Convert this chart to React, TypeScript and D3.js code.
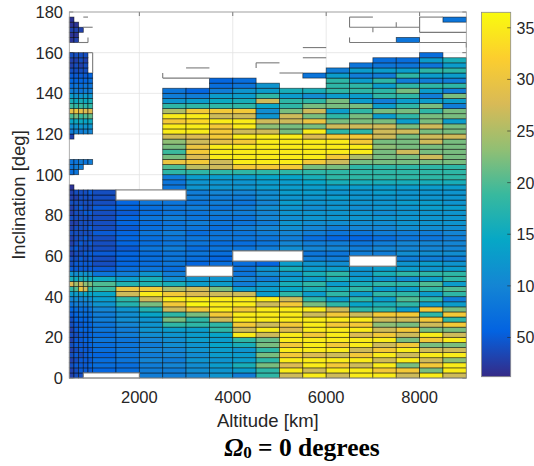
import React from 'react';
import * as d3 from 'd3';

const _ = null;

// Altitude bin edges [km]
const altitudeEdges = [500, 600, 700, 800, 900, 1000, 1500, 2000, 2500, 3000, 3500, 4000, 4500, 5000, 5500, 6000, 6500, 7000, 7500, 8000, 8500, 9000];
// Inclination bin size [deg]
const INC_STEP = 2.5;

// Values per altitude column, from inclination 0 upward (one entry per 2.5 deg row)
const col0500 = [3,3,4,3,4,3,4,3,4,3,4,4,5,6, 8,10,13,18,28,16,12, 5,4,4,3,4,3,3,4,3,3,4,3,3,4,3,3, 2, _,_, 7,8,8, _,_,_,_, 3, 9,11,14,20,29,19,16,13,9,7,6,5, 4,3,3,4, _,_, 2,2,3,2,2];
const col0600 = [4,4,5,4,5,4,5,5,4,5,5,6,6,7, 9,11,13,20,24,15,11, 5,5,4,4,5,4,4,4,4,3,4,4,4,4,3,4, _,_,_, 8,9,8, _,_,_,_,_, 10,12,15,22,30,18,15,12,9,8,6,5, 4,4,3,4, _,_, 3,2,3,2];
const col0700 = [4,5,5,5,4,5,5,5,5,6,5,6,7,7, 9,10,13,30,27,16,12, 5,5,5,4,4,5,4,4,4,4,4,4,5,4,4,4, _,_,_,_, 9,9, _,_,_,_,_, 9,12,15,19,29,19,16,12,8,7,6,5, 4,3,4,4, _,_,_,_, 3];
const col0800 = [_,5,5,5,5,5,5,6,5,6,6,6,7,7, 9,11,14,27,23,16,12, 5,5,4,5,4,4,5,4,4,4,4,5,4,4,4,4, _,_,_,_,_, 8, _,_,_,_,_, 10,12,14,20,28,18,15,13,9,8,6,5, 4,4,3,4];
const col0900 = [_,5,6,5,6,5,6,6,6,6,6,7,7,8, 10,11,14,18,22,15,11, 5,5,5,5,4,5,4,4,5,4,4,5,4,4,4,5, _,_,_,_,_, 9, _,_,_,_,_, 10,12,15,21,28,18,16,12,9,8,7,6];
const col1000 = [_,6,7,7,6,7,7,8,7,8,8,9,9,10, 12,13,14,19,20,15,8, 5,4,4,5,4,4,4,5,4,4,4,4,5,4,4,4];
const col1500 = [_,7,7,8,8,8,8,8,9,9,10,11,11,12, 17,18,27,30,17,13,9, 7,6,6,6,5,6,6,6,5,6,6,5,6,6];
const col2000 = [9,9,9,10,9,10,9,10,11,12,12,12,14,17, 22,27,35,31,17,16,12, 8,7,7,7,8,7,7,8,7,7,8,7,7,8];
const col2500 = [9,9,10,9,10,10,11,11,12,13,18,22,18,27, 31,35,31,25,16,11,9, 7,8,8,8,9,8,8,9,8,8,9,8,8,8, _,_, 8,8,9,18,20,30,22,19,22,23,27,35,35,31,35,25,18,12,9,8];
const col3000 = [10,11,11,12,11,12,12,13,13,13,18,18,22,31, 36,35,28,27,13,12,_,_, 6,7,8,7,8,8,7,8,9,8,8,9,8,9,9, 12,12,13,18,26,31,28,31,30,27,28,35,35,33,35,31,18,13,9,6];
const col3500 = [12,12,13,12,13,13,14,13,14,18,18,27,31,35, 35,35,27,22,13,12,_,_, 7,6,7,8,7,8,8,7,8,8,9,8,9,9,10, 12,12,13,18,27,27,35,35,35,29,31,31,31,35,27,31,18,15,13,9,7,6];
const col4000 = [9,13,16,13,13,12,16,18,35,27,31,35,35,31, 35,35,27,13,9,10,8,8,7,_,_, 8,7,8,8,9,8,8,9,9,8,9,10, 12,12,13,18,31,35,35,35,35,31,35,27,35,35,27,31,18,16,13,12,8,7];
const col4500 = [18,18,22,18,22,18,22,21,27,35,27,35,35,35, 27,35,13,13,12,9,11,12,6,_,_, 9,8,8,9,10,9,10,10,11,10,11,11, 13,13,14,18,31,35,35,35,35,35,35,27,23,27,12,11,14,27,18,13,12];
const col5000 = [27,35,28,35,31,35,31,35,35,28,31,35,35,35, 31,27,18,14,16,13,12,16,13,_,_, 11,10,9,10,11,12,11,12,12,13,12,13, 13,13,14,18,31,35,35,35,35,35,35,22,22,27,27,22,18,18,13,16];
const col5500 = [35,27,35,35,28,35,35,35,31,35,35,35,27,35, 22,18,13,16,18,13,16,13,12,9,8, 10,9,7,9,10,11,12,12,11,12,12,13, 13,14,16,18,22,31,35,35,35,35,28,35,22,30,22,27,22,18,11,16, _,_,8];
const col6000 = [27,35,31,35,27,35,31,35,35,35,31,35,31,27, 18,13,18,16,13,16,18,13,11,9,8, 10,9,6,8,9,11,12,12,12,12,13,12, 13,16,18,18,22,27,31,35,35,35,31,18,27,22,18,13,22,22,13,18,18,18,13,9];
const col6500 = [35,35,27,35,31,27,35,35,28,35,31,35,27,18, 14,18,13,18,16,13,12,12,_,_,9, 9,8,6,8,10,11,12,12,11,12,12,12, 13,16,18,18,18,22,25,35,35,31,31,18,27,22,22,18,22,13,13,18,18,13,9,13,8];
const col7000 = [35,31,35,27,35,31,27,35,31,27,23,27,31,18, 16,13,18,13,18,12,16,13,_,_,9, 10,9,7,9,10,11,12,11,12,12,12,13, 13,16,18,18,18,22,22,22,23,22,27,27,27,22,13,22,13,9,18,18,13,18,9,13,8,7];
const col7500 = [27,31,22,35,27,35,31,22,27,31,22,27,31,13, 18,20,18,13,18,11,18,13,12,9,11, 10,10,8,9,11,12,12,12,12,13,12,12, 13,16,18,18,18,22,22,27,22,22,22,27,22,13,18,22,18,13,18,22,18,9,18,13,8,7, _,_,_, 8];
const col8000 = [35,22,31,27,35,27,22,31,35,22,27,31,18,31, 13,18,13,18,20,13,18,12,13,9,11, 10,10,8,9,11,12,12,12,13,13,12,12, 13,16,18,18,18,22,27,22,22,27,27,22,27,22,22,18,22,13,9,13,18,9,13,18,8,13,7];
const col8500 = [27,35,35,23,35,27,22,35,27,22,31,18,31,22, 13,9,18,20,13,18,18,13,12,9,11, 10,10,9,10,11,12,12,12,13,12,12,12, 13,16,18,18,18,22,22,22,22,22,27,22,22,13,22,22,9,13,22,9,18,9,13,18,13,16, _,_,_,_,_,_,_, 8];

const columns = [col0500, col0600, col0700, col0800, col0900, col1000, col1500, col2000, col2500, col3000, col3500, col4000, col4500, col5000, col5500, col6000, col6500, col7000, col7500, col8000, col8500];

// Empty (NaN) cells that still show their outline: [alt0, alt1, inc0, inc1]
const emptyBoxes = [
  [800, 2000, 0, 2.5],
  [1500, 3000, 87.5, 92.5],
  [3000, 4000, 50, 55],
  [4000, 5500, 57.5, 62.5],
  [6500, 7500, 55, 60],
];

// Stray outline segments of empty cells: [alt0, inc0, alt1, inc1]
const nanEdges = [
  [800, 177.5, 900, 177.5],
  [800, 172.5, 1000, 172.5],
  [700, 165, 900, 165], [900, 165, 900, 167.5],
  [900, 160, 1000, 160], [1000, 150, 1000, 160],
  [2500, 147.5, 2500, 150], [2500, 147.5, 3500, 147.5],
  [3000, 152.5, 3500, 152.5],
  [4500, 152.5, 4500, 155], [4500, 155, 5000, 155],
  [5000, 150, 5500, 150],
  [5500, 162.5, 6000, 162.5], [5500, 157.5, 6000, 157.5],
  [6500, 177.5, 7000, 177.5], [6500, 172.5, 6500, 177.5], [6500, 172.5, 8000, 172.5],
  [7000, 170, 7000, 172.5], [7500, 172.5, 7500, 175],
  [8000, 177.5, 8500, 177.5], [8000, 170, 8000, 177.5], [8000, 170, 9000, 170],
  [6500, 165, 7500, 165], [6500, 165, 6500, 167.5],
  [8000, 165, 9000, 165], [9000, 162.5, 9000, 165],
];

const xTicks = [2000, 4000, 6000, 8000];
const yTicks = [0, 20, 40, 60, 80, 100, 120, 140, 160, 180];
const cbTicks = [5, 10, 15, 20, 25, 30, 35];
const cbTickLabels = ['50', '10', '15', '20', '25', '30', '35'];
const C_MIN = 1.2;
const C_MAX = 36.5;
const parula = ['#352a87', '#0363e1', '#1485d4', '#06a7c6', '#38b99e', '#92bf73', '#d9ba56', '#fcce2e', '#f9fb0e'];

const SANS = '"Liberation Sans", Arial, Helvetica, sans-serif';
const SERIF = '"Liberation Serif", "Times New Roman", serif';
const INK = '#262626';

export default function App() {
  const x = d3.scaleLinear().domain([500, 9000]).range([69.3, 466.3]);
  const y = d3.scaleLinear().domain([0, 180]).range([378, 12]);
  const color = d3
    .scaleLinear<string>()
    .domain(parula.map((_c, i) => C_MIN + (i * (C_MAX - C_MIN)) / (parula.length - 1)))
    .range(parula)
    .interpolate(d3.interpolateRgb)
    .clamp(true);
  const cb = d3.scaleLinear().domain([C_MIN, C_MAX]).range([376.7, 12.3]);
  const cbX0 = 481.5;
  const cbX1 = 510.7;

  const cells: React.ReactNode[] = [];
  columns.forEach((vals, ci) => {
    const x0 = x(altitudeEdges[ci]);
    const x1 = x(altitudeEdges[ci + 1]);
    vals.forEach((v, ri) => {
      if (v == null) return;
      const yTop = y((ri + 1) * INC_STEP);
      const yBot = y(ri * INC_STEP);
      cells.push(
        <rect
          key={`c${ci}-${ri}`}
          x={x0}
          y={yTop}
          width={x1 - x0}
          height={yBot - yTop}
          fill={color(v)}
          stroke="#000"
          strokeOpacity={0.6}
          strokeWidth={0.8}
        />
      );
    });
  });

  const [px0, px1] = x.range();
  const [py0, py1] = [y(0), y(180)];

  return (
    <svg width={534} height={466} style={{ position: 'absolute', left: 0, top: 0, background: '#fff' }}>
      <defs>
        <linearGradient id="cbgrad" x1="0" y1="1" x2="0" y2="0">
          {parula.map((c, i) => (
            <stop key={i} offset={i / (parula.length - 1)} stopColor={c} />
          ))}
        </linearGradient>
      </defs>
      <rect x={0} y={0} width={534} height={466} fill="#fff" />
      {/* grid */}
      <g stroke="#e3e3e3" strokeWidth={0.8}>
        {xTicks.map((t) => (
          <line key={`gx${t}`} x1={x(t)} x2={x(t)} y1={py1} y2={py0} />
        ))}
        {yTicks.map((t) => (
          <line key={`gy${t}`} x1={px0} x2={px1} y1={y(t)} y2={y(t)} />
        ))}
      </g>
      {/* ticks (under data) */}
      <g stroke={INK} strokeWidth={0.6}>
        {yTicks.map((t) => (
          <g key={`ty${t}`}>
            <line x1={px0} x2={px0 + 4} y1={y(t)} y2={y(t)} />
            <line x1={px1} x2={px1 - 4} y1={y(t)} y2={y(t)} />
          </g>
        ))}
        {xTicks.map((t) => (
          <g key={`tx${t}`}>
            <line x1={x(t)} x2={x(t)} y1={py0} y2={py0 - 4} />
            <line x1={x(t)} x2={x(t)} y1={py1} y2={py1 + 4} />
          </g>
        ))}
      </g>
      {cells}
      {emptyBoxes.map(([a0, a1, i0, i1], k) => (
        <rect
          key={`e${k}`}
          x={x(a0)}
          y={y(i1)}
          width={x(a1) - x(a0)}
          height={y(i0) - y(i1)}
          fill="#fff"
          stroke="#7a7a7a"
          strokeWidth={1.1}
        />
      ))}
      <g stroke="#7a7a7a" strokeWidth={1.1}>
        {nanEdges.map(([a0, i0, a1, i1], k) => (
          <line key={`n${k}`} x1={x(a0)} y1={y(i0)} x2={x(a1)} y2={y(i1)} />
        ))}
      </g>
      {/* axes box */}
      <rect x={px0} y={py1} width={px1 - px0} height={py0 - py1} fill="none" stroke="#9a9a9a" strokeWidth={0.8} />
      {/* tick labels */}
      <g fontFamily={SANS} fontSize={16.5} fill={INK}>
        {yTicks.map((t) => (
          <text key={`ly${t}`} x={63} y={y(t) + 6} textAnchor="end">
            {t}
          </text>
        ))}
        {xTicks.map((t) => (
          <text key={`lx${t}`} x={x(t)} y={402.5} textAnchor="middle">
            {t}
          </text>
        ))}
      </g>
      <text x={(px0 + px1) / 2} y={427} textAnchor="middle" fontFamily={SANS} fontSize={18.5} fill={INK}>
        Altitude [km]
      </text>
      <text
        transform={`translate(25.3, ${(py0 + py1) / 2}) rotate(-90)`}
        textAnchor="middle"
        fontFamily={SANS}
        fontSize={18.5}
        fill={INK}
      >
        Inclination [deg]
      </text>
      {/* colorbar */}
      <rect x={cbX0} y={cb(C_MAX)} width={cbX1 - cbX0} height={cb(C_MIN) - cb(C_MAX)} fill="url(#cbgrad)" stroke="#8a8a8a" strokeWidth={0.8} />
      <g stroke={INK} strokeWidth={0.6}>
        {cbTicks.map((t) => (
          <line key={`cbt${t}`} x1={cbX1} x2={cbX1 - 3.5} y1={cb(t)} y2={cb(t)} />
        ))}
      </g>
      <g fontFamily={SANS} fontSize={16} fill={INK}>
        {cbTicks.map((t, i) => (
          <text key={`cbl${t}`} x={516.5} y={cb(t) + 6}>
            {cbTickLabels[i]}
          </text>
        ))}
      </g>
      {/* title */}
      <text x={302} y={456} textAnchor="middle" fontFamily={SERIF} fontWeight="bold" fontSize={25.5} fill="#000">
        <tspan fontStyle="italic">Ω</tspan>
        <tspan fontSize={17} dy={2}>0</tspan>
        <tspan dy={-2}> = 0 degrees</tspan>
      </text>
    </svg>
  );
}
